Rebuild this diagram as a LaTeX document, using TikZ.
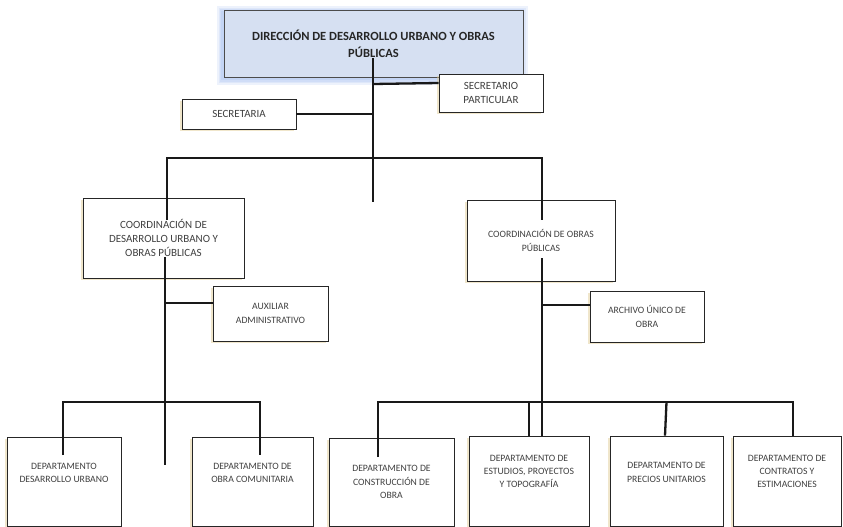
\documentclass[tikz,border=0pt]{standalone}
\usepackage{fontspec}
\setmainfont{Carlito}
\usetikzlibrary{shadows}

\definecolor{dirfill}{RGB}{214,224,242}
\definecolor{dirglow}{RGB}{110,150,230}
\definecolor{boxshade}{RGB}{222,200,140}
\definecolor{boxtext}{RGB}{64,64,64}

\tikzset{
  box/.style={draw=black!85, fill=white, line width=0.9pt, align=center,
    text=boxtext, inner sep=1pt,
    drop shadow={shadow xshift=-1.8pt, shadow yshift=-2.2pt, fill=boxshade, opacity=0.45}},
  bigtxt/.style={font=\fontsize{11}{13.7}\selectfont},
  smalltxt/.style={font=\fontsize{9.7}{13.4}\selectfont},
  conn/.style={line width=2.3pt, draw=black!90},
  glow/.style={preaction={draw=dirglow, line width=#1, opacity=0.12,
    transform canvas={xshift=-1.5pt,yshift=-2pt}}},
}

\begin{document}
\begin{tikzpicture}[x=1pt,y=-1pt]
  \useasboundingbox (0,0) rectangle (843,527);

  % direccion
  \node[draw=black!70, fill=dirfill, line width=0.9pt, align=center, text=black!85,
        minimum width=299pt, minimum height=67pt,
        font=\bfseries\fontsize{12.5}{17}\selectfont,
        glow=12pt, glow=8pt, glow=5pt, glow=2.5pt]
        (dir) at (373.5,43.5) {DIRECCIÓN DE DESARROLLO URBANO Y OBRAS\\PÚBLICAS};

  \node[box, bigtxt, minimum width=104pt, minimum height=38pt] (secpart) at (491,93) {SECRETARIO\\PARTICULAR};
  \node[box, bigtxt, minimum width=114pt, minimum height=30pt] (secre) at (239,114) {SECRETARIA};

  % coordinaciones
  \node[box, bigtxt, minimum width=161pt, minimum height=80pt] (coordu) at (163.5,238)
        {COORDINACIÓN DE\\DESARROLLO URBANO Y\\OBRAS PÚBLICAS};
  \node[box, smalltxt, minimum width=148pt, minimum height=81pt] (coordop) at (541,240.5)
        {COORDINACIÓN DE OBRAS\\PÚBLICAS};

  \node[box, smalltxt, minimum width=115pt, minimum height=55pt] (aux) at (270.5,313.5) {AUXILIAR\\ADMINISTRATIVO};
  \node[box, smalltxt, minimum width=114pt, minimum height=51pt] (arch) at (647,316.5) {ARCHIVO ÚNICO DE\\OBRA};

  % departamentos
  \node[box, smalltxt, minimum width=114pt, minimum height=89pt] (depdu) at (64,481.5) {DEPARTAMENTO\\DESARROLLO URBANO\\[4pt]};
  \node[box, smalltxt, minimum width=121pt, minimum height=89pt] (depoc) at (252.5,481.5) {DEPARTAMENTO DE\\OBRA COMUNITARIA\\[4pt]};
  \node[box, smalltxt, minimum width=125pt, minimum height=88pt] (depco) at (391.5,482) {DEPARTAMENTO DE\\CONSTRUCCIÓN DE\\OBRA};
  \node[box, smalltxt, minimum width=120pt, minimum height=90pt] (depep) at (529,481) {DEPARTAMENTO DE\\ESTUDIOS, PROYECTOS\\Y TOPOGRAFÍA\\[6pt]};
  \node[box, smalltxt, minimum width=113pt, minimum height=90pt] (deppu) at (666.5,481) {DEPARTAMENTO DE\\PRECIOS UNITARIOS\\[4pt]};
  \node[box, smalltxt, minimum width=108pt, minimum height=90pt] (depce) at (787,481) {DEPARTAMENTO DE\\CONTRATOS Y\\ESTIMACIONES\\[6pt]};

  % puntos de union
  \coordinate (dirin) at (373,58);
  \coordinate (dirend) at (373,202);
  \coordinate (bar1) at (373,158);
  \coordinate (cuin) at (167,220);
  \coordinate (coin) at (542,220);
  \coordinate (culow) at (165,257);
  \coordinate (cuend) at (165,465);
  \coordinate (colow) at (542,258);
  \coordinate (bar2) at (165,402);
  \coordinate (bar3) at (542,402);
  \coordinate (duin) at (63,455);
  \coordinate (ocin) at (260,455);
  \coordinate (coobin) at (378,457);

  % lineas
  \draw[conn] (dirin) -- (dirend);
  \draw[conn] (dirin |- secpart.west) ++(0,-9) -- ([yshift=10pt]secpart.west);
  \draw[conn] (secre.east) -- (secre.east -| dirin);
  \draw[conn] (cuin) |- (bar1) -| (coin);

  \draw[conn] (culow) -- (cuend);
  \draw[conn] ([yshift=10.5pt]aux.west) -- ([yshift=10.5pt]aux.west -| culow);
  \draw[conn] (duin) |- (bar2) -| (ocin);

  \draw[conn] (colow) -- (colow |- depep.north);
  \draw[conn] ([yshift=11.5pt]arch.west) -- ([yshift=11.5pt]arch.west -| colow);
  \draw[conn] (coobin) |- (bar3) -| ([xshift=6pt]depce.north);
  \draw[conn] (bar3 -| depep.north) -- (depep.north);
  \draw[conn] (bar3 -| deppu.north) -- ([xshift=-1.5pt]deppu.north);
\end{tikzpicture}
\end{document}
